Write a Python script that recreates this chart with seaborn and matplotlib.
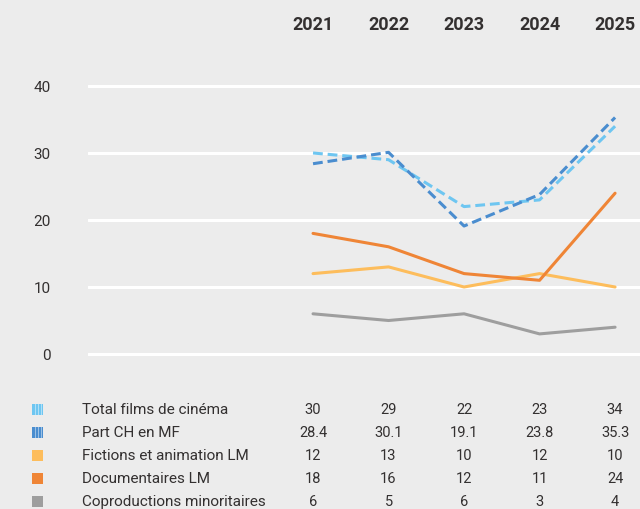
import matplotlib
matplotlib.use("Agg")
import matplotlib.pyplot as plt
import matplotlib.transforms as mtransforms
import seaborn as sns
import pandas as pd
from matplotlib.patches import Rectangle

years = ["2021", "2022", "2023", "2024", "2025"]
series_names = ["Total films de cinéma", "Part CH en MF", "Fictions et animation LM",
                "Documentaires LM", "Coproductions minoritaires"]
total_films = [30, 29, 22, 23, 34]
part_ch = [28.4, 30.1, 19.1, 23.8, 35.3]
fictions = [12, 13, 10, 12, 10]
documentaires = [18, 16, 12, 11, 24]
coproductions = [6, 5, 6, 3, 4]
table_labels = [["30", "29", "22", "23", "34"],
                ["28.4", "30.1", "19.1", "23.8", "35.3"],
                ["12", "13", "10", "12", "10"],
                ["18", "16", "12", "11", "24"],
                ["6", "5", "6", "3", "4"]]
yticks = [0, 10, 20, 30, 40]

colors = ["#6ec6f1", "#4a8dcf", "#fdbd5c", "#ef8536", "#9e9e9e"]
bg = "#ececec"
txt = "#333030"

sns.set_theme(style="white")
plt.rcParams["font.family"] = ["Roboto", "DejaVu Sans"]

values = [total_films, part_ch, fictions, documentaires, coproductions]
rows = []
for name, vals in zip(series_names, values):
    for i, v in enumerate(vals):
        rows.append({"idx": i, "value": v, "serie": name})
df = pd.DataFrame(rows)

fig = plt.figure(figsize=(6.4, 5.1), dpi=100, facecolor=bg)
ax = fig.add_axes([88 / 640, (510 - 368.4) / 510, 1 - 88 / 640, 294.8 / 510])
ax.set_facecolor(bg)

for name, c in zip(series_names, colors):
    sub = df[df["serie"] == name]
    dashed = name in series_names[:2]
    sns.lineplot(data=sub, x="idx", y="value", ax=ax, color=c, lw=2.2,
                 linestyle=(0, (3.2, 1.6)) if dashed else "-", legend=False)

ax.set_ylim(-2, 42)
ax.set_xlim(-2.98, 4.33)
ax.set_yticks(yticks)
ax.set_yticklabels([str(t) for t in yticks], fontsize=11, color=txt)
ax.tick_params(axis="y", length=0, pad=27)
ax.set_xticks([])
ax.set_xlabel("")
ax.set_ylabel("")
for t in yticks:
    ax.axhline(t, color="white", lw=2.2, zorder=0)
for s in ax.spines.values():
    s.set_visible(False)

trans = mtransforms.blended_transform_factory(ax.transData, fig.transFigure)

# year headers
for i, y in enumerate(years):
    ax.text(i, 1 - 25 / 510, y, transform=trans,
            ha="center", va="center", fontsize=13, fontweight="bold", color=txt)

# table
row_y = [410, 433, 456, 479, 502]
for r, (name, c, labs) in enumerate(zip(series_names, colors, table_labels)):
    yf = 1 - row_y[r] / 510
    fig.text(82 / 640, yf, name, ha="left", va="center", fontsize=11, color=txt)
    for i, lab in enumerate(labs):
        ax.text(i, yf, lab, transform=trans, ha="center", va="center",
                fontsize=10.5, color=txt)
    # legend marker
    x0, w, h = 32 / 640, 11 / 640, 11 / 510
    fig.patches.append(Rectangle((x0, yf - h / 2), w, h, transform=fig.transFigure,
                                 facecolor=c, edgecolor="none", lw=0))
    if r < 2:
        for k in range(3):
            fig.patches.append(Rectangle((x0 + (2.5 + 3 * k) / 640, yf - h / 2), 1 / 640, h,
                                         transform=fig.transFigure,
                                         facecolor="white", alpha=0.45,
                                         edgecolor="none", lw=0))

fig.savefig("out.png", dpi=100, facecolor=bg)
